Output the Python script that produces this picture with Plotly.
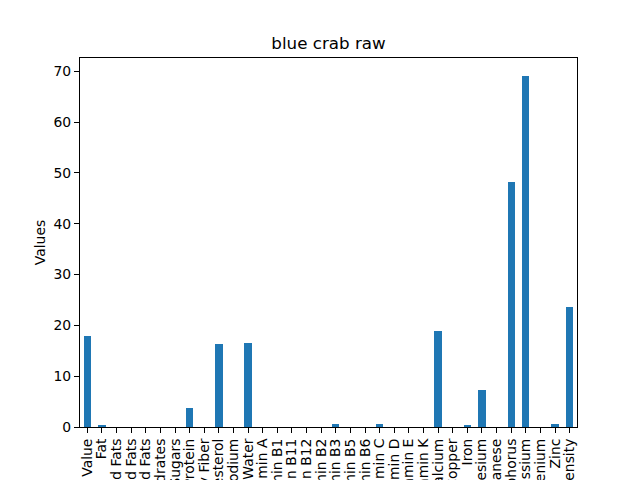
import plotly.graph_objects as go

# nutrient names and values for "blue crab raw"
nutrients = [
    "Caloric Value", "Fat", "Saturated Fats", "Monounsaturated Fats",
    "Polyunsaturated Fats", "Carbohydrates", "Sugars", "Protein",
    "Dietary Fiber", "Cholesterol", "Sodium", "Water", "Vitamin A",
    "Vitamin B1", "Vitamin B11", "Vitamin B12", "Vitamin B2", "Vitamin B3",
    "Vitamin B5", "Vitamin B6", "Vitamin C", "Vitamin D", "Vitamin E",
    "Vitamin K", "Calcium", "Copper", "Iron", "Magnesium", "Manganese",
    "Phosphorus", "Potassium", "Selenium", "Zinc", "Nutrition Density",
]
values = [
    18.0, 0.2, 0.0, 0.0,
    0.0, 0.0, 0.0, 3.8,
    0.0, 16.4, 0.0, 16.6, 0.0,
    0.0, 0.0, 0.0, 0.0, 0.6,
    0.0, 0.0, 0.6, 0.0, 0.0,
    0.0, 18.8, 0.0, 0.2, 7.2, 0.0,
    48.3, 69.1, 0.0, 0.6, 23.7,
]

font = "DejaVu Sans"

fig = go.Figure(go.Bar(
    x=nutrients, y=values,
    width=0.5,
    marker=dict(color="#1f77b4", line=dict(width=0)),
))

# the page puts the figure 8px in from the top-left, so margins are shifted
fig.update_layout(
    width=640, height=480,
    paper_bgcolor="white", plot_bgcolor="white",
    margin=dict(l=72, r=71, t=50, b=61),
    font=dict(family=font, size=13.9, color="black"),
    title=dict(text="blue crab raw", x=320.5 / 640, xanchor="center",
               y=1 - 35 / 480, yref="container", yanchor="middle",
               font=dict(size=16.7)),
    showlegend=False,
    bargap=0,
)

fig.update_xaxes(
    range=[-0.5, len(nutrients) - 0.5],
    tickmode="array", tickvals=nutrients,
    tickangle=-90, automargin=False,
    ticks="outside", ticklen=5, tickwidth=1.1, tickcolor="black",
    showline=True, linecolor="black", linewidth=1.1, mirror=True,
    showgrid=False, zeroline=False,
)

fig.update_yaxes(
    range=[0, 72.6], tickvals=[0, 10, 20, 30, 40, 50, 60, 70],
    ticks="outside", ticklen=5, tickwidth=1.1, tickcolor="black",
    showline=True, linecolor="black", linewidth=1.1, mirror=True,
    showgrid=False, zeroline=False, automargin=False,
    title=dict(text="Values", standoff=4, font=dict(size=13.9)),
)

fig.write_html("out.html")
